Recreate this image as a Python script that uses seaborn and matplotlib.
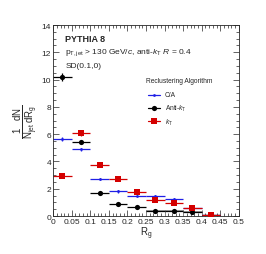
import numpy as np
import pandas as pd
import matplotlib
matplotlib.use('Agg')
import matplotlib.pyplot as plt
import seaborn as sns

# bin centres of R_g (bin width 0.05)
rg_centers = [0.025, 0.075, 0.125, 0.175, 0.225, 0.275, 0.325, 0.375, 0.425]
ca_vals = [5.65, 4.9, 2.7, 1.8, 1.5, 1.5, 1.25, 0.6, 0.05]
akt_vals = [10.2, 5.4, 1.7, 0.9, 0.65, 0.4, 0.38, 0.3, 0.05]
kt_vals = [2.9, 6.05, 3.75, 2.72, 1.75, 1.15, 0.95, 0.6, 0.05]
akt_yerr = [0.3, 0.15, 0.08, 0.06, 0.05, 0.04, 0.04, 0.04, 0.02]
ca_yerr = [0.12, 0.1, 0.08, 0.08, 0.07, 0.07, 0.07, 0.05, 0.02]
kt_yerr = [0.15, 0.15, 0.1, 0.1, 0.08, 0.07, 0.07, 0.05, 0.02]
algos = ['C/A', 'Anti-$k_{\\rm T}$', '$k_{\\rm T}$']

df = pd.DataFrame({
    'rg': rg_centers * 3,
    'val': ca_vals + akt_vals + kt_vals,
    'err': ca_yerr + akt_yerr + kt_yerr,
    'algo': [algos[0]] * 9 + [algos[1]] * 9 + [algos[2]] * 9,
})

sns.set_style('ticks')
plt.rcParams['font.family'] = ['Liberation Sans', 'DejaVu Sans']
plt.rcParams['mathtext.fontset'] = 'custom'
plt.rcParams['mathtext.rm'] = 'Liberation Sans'
plt.rcParams['mathtext.it'] = 'Liberation Sans:italic'

colors = {algos[0]: '#1f1fe6', algos[1]: 'black', algos[2]: '#d40000'}
markers = {algos[0]: 'o', algos[1]: 'o', algos[2]: 's'}
msizes = {algos[0]: 4, algos[1]: 14, algos[2]: 16}

fig = plt.figure(figsize=(2.66, 2.55), dpi=100)
ax = fig.add_axes([0.2, 0.149, 0.698, 0.749])

# systematic boxes for anti-kT tail
for x, y in zip(rg_centers[5:8], akt_vals[5:8]):
    ax.add_patch(plt.Rectangle((x - 0.025, 0), 0.05, y + 0.05, fill=False,
                               edgecolor='0.55', lw=0.6))

for a in algos:
    d = df[df.algo == a]
    ax.errorbar(d.rg, d.val, xerr=0.025, yerr=d.err, fmt='none',
                ecolor=colors[a], elinewidth=0.9, capsize=0)
    sns.scatterplot(data=d, x='rg', y='val', color=colors[a],
                    marker=markers[a], s=msizes[a], linewidth=0,
                    ax=ax, legend=False, zorder=3)

ax.set_xlim(0, 0.5)
ax.set_ylim(0, 14)
ax.set_xticks(np.arange(0, 0.51, 0.05))
ax.set_xticklabels(['0', '0.05', '0.1', '0.15', '0.2', '0.25', '0.3',
                    '0.35', '0.4', '0.45', '0.5'])
ax.set_yticks(np.arange(0, 15, 2))
ax.set_xticks(np.arange(0, 0.501, 0.01), minor=True)
ax.set_yticks(np.arange(0, 14.01, 0.5), minor=True)
ax.tick_params(which='both', direction='in', top=True, right=True,
               labelsize=6, pad=1.5, width=0.5)
ax.tick_params(which='major', length=4)
ax.tick_params(which='minor', length=2)
for s in ax.spines.values():
    s.set_linewidth(0.6)

ax.set_xlabel('$\\rm R_{g}$', fontsize=7, labelpad=0)
ax.set_ylabel('$\\rm \\frac{1}{N_{jet}}\\frac{dN}{dR_{g}}$',
              fontsize=10, labelpad=1)

ax.text(0.065, 0.93, 'PYTHIA 8', transform=ax.transAxes, fontsize=6.5,
        fontweight='bold', va='center')
ax.text(0.065, 0.86, '$\\rm p_{T,jet}$ > 130 GeV/$c$, anti-$k_{\\rm T}$ $R$ = 0.4',
        transform=ax.transAxes, fontsize=6, va='center')
ax.text(0.065, 0.79, 'SD(0.1,0)', transform=ax.transAxes, fontsize=6,
        va='center')

ax.text(0.5, 0.71, 'Reclustering Algorithm', transform=ax.transAxes,
        fontsize=4.8, va='center')
for i, a in enumerate(algos):
    yy = 0.635 - i * 0.07
    ax.plot([0.51, 0.575], [yy, yy], transform=ax.transAxes,
            color=colors[a], lw=0.9)
    ax.scatter([0.5425], [yy], transform=ax.transAxes, color=colors[a],
               marker=markers[a], s=msizes[a], linewidth=0, zorder=3)
    ax.text(0.6, yy, a, transform=ax.transAxes, fontsize=4.8, va='center')

fig.savefig('out.png', dpi=100)
